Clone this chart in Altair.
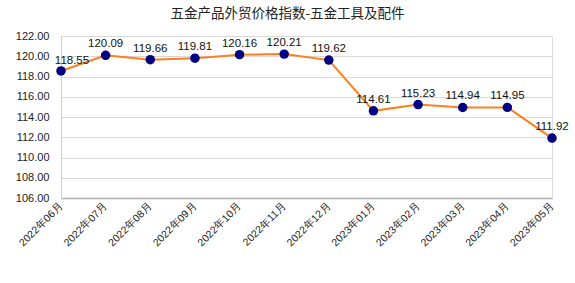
import altair as alt
import pandas as pd

months = ["2022年06月", "2022年07月", "2022年08月", "2022年09月", "2022年10月", "2022年11月",
          "2022年12月", "2023年01月", "2023年02月", "2023年03月", "2023年04月", "2023年05月"]
values = [118.55, 120.09, 119.66, 119.81, 120.16, 120.21, 119.62, 114.61, 115.23, 114.94, 114.95, 111.92]
y_ticks = [106, 108, 110, 112, 114, 116, 118, 120, 122]

df = pd.DataFrame({"month": months, "value": values})

x = alt.X("month:N", sort=months, scale=alt.Scale(type="point", padding=0),
          axis=alt.Axis(title=None, labelAngle=-45, labelAlign="right", labelBaseline="middle",
                        labelFont="Liberation Sans", labelFontSize=10.5, labelColor="#222222",
                        ticks=False, domainColor="#b0b0b0", domainWidth=1.5, labelPadding=6,
                        labelOverlap=False, grid=False))
y = alt.Y("value:Q", scale=alt.Scale(domain=[106, 122], nice=False, zero=False),
          axis=alt.Axis(title=None, values=y_ticks, format=".2f", labelFont="Liberation Sans",
                        labelFontSize=11, labelColor="#222222", ticks=False, domainColor="#d0d0d0",
                        gridColor="#d9d9d9", labelPadding=12))

base = alt.Chart(df).encode(x=x, y=y)
line = base.mark_line(color="#ff7f1e", strokeWidth=2)
pts = base.mark_circle(color="#000080", size=90, opacity=1)
labels = base.transform_filter(alt.datum.month != months[0]).mark_text(
    dy=-11, font="Liberation Sans", fontSize=11.5, color="#111111").encode(
    text=alt.Text("value:Q", format=".2f"))
first_label = base.transform_filter(alt.datum.month == months[0]).mark_text(
    dy=-10, dx=11, font="Liberation Sans", fontSize=11.5, color="#111111").encode(
    text=alt.Text("value:Q", format=".2f"))

chart = (line + pts + labels + first_label).properties(
    width=491, height=162,
    title=alt.TitleParams("五金产品外贸价格指数-五金工具及配件", font="Noto Sans CJK SC", fontSize=13.5,
                          fontWeight="normal", color="#222222", anchor="middle", dx=-19, offset=10),
    autosize=alt.AutoSizeParams(type="none"),
    padding={"left": 61, "top": 36, "right": 23, "bottom": 85},
).configure_view(stroke=None).configure(background="white")

chart.save("out.html", embed_options={"renderer": "svg", "actions": False})
